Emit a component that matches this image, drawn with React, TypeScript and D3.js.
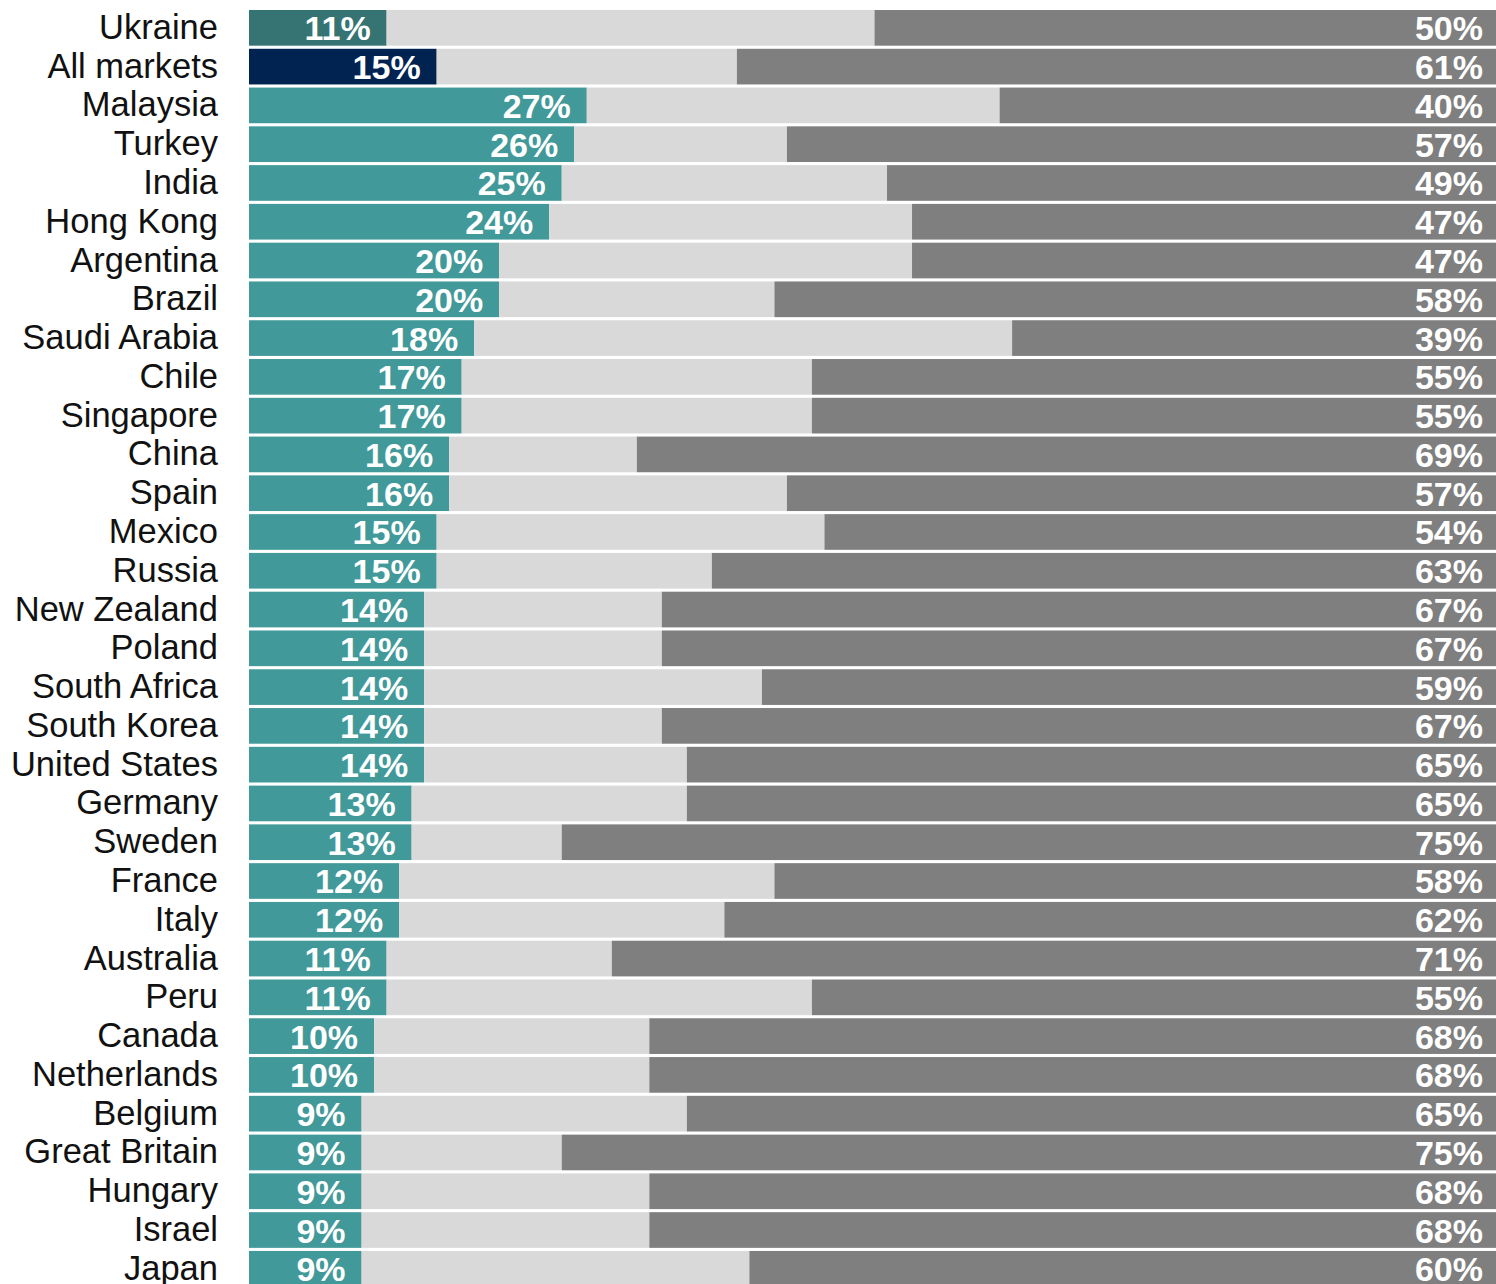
import React from "react";
import * as d3 from "d3";

const countries = [
  "Ukraine", "All markets", "Malaysia", "Turkey", "India", "Hong Kong", "Argentina",
  "Brazil", "Saudi Arabia", "Chile", "Singapore", "China", "Spain", "Mexico", "Russia",
  "New Zealand", "Poland", "South Africa", "South Korea", "United States", "Germany",
  "Sweden", "France", "Italy", "Australia", "Peru", "Canada", "Netherlands", "Belgium",
  "Great Britain", "Hungary", "Israel", "Japan",
];
const leftValues = [
  11, 15, 27, 26, 25, 24, 20, 20, 18, 17, 17, 16, 16, 15, 15,
  14, 14, 14, 14, 14, 13, 13, 12, 12, 11, 11, 10, 10, 9, 9, 9, 9, 9,
];
const rightValues = [
  50, 61, 40, 57, 49, 47, 47, 58, 39, 55, 55, 69, 57, 54, 63,
  67, 67, 59, 67, 65, 65, 75, 58, 62, 71, 55, 68, 68, 65, 75, 68, 68, 60,
];

const width = 1496;
const height = 1284;
const step = 38.78;

function leftColor(name: string) {
  if (name === "Ukraine") return "#357473";
  if (name === "All markets") return "#002352";
  return "#429999";
}

export default function App() {
  // the plot runs a little past the right edge of the picture
  const x = d3.scaleLinear().domain([0, 100]).range([249, 1500]);
  const y = d3
    .scaleBand<string>()
    .domain(countries)
    .range([10 - 0.04 * step, 10 - 0.04 * step + step * 33])
    .paddingInner(0.08)
    .paddingOuter(0.04);
  const bh = y.bandwidth();
  const font = "Liberation Sans, Arial, sans-serif";

  return (
    <div style={{ position: "absolute", left: 0, top: 0 }}>
      <svg width={width} height={height} style={{ display: "block" }} fontFamily={font}>
        {countries.map((c, i) => {
          const l = leftValues[i];
          const r = rightValues[i];
          const y0 = y(c) as number;
          const cy = y0 + bh / 2;
          return (
            <g key={c}>
              <rect x={x(0)} y={y0} width={x(l) - x(0)} height={bh} fill={leftColor(c)} />
              <rect x={x(l)} y={y0} width={x(100 - r) - x(l)} height={bh} fill="#d9d9d9" />
              <rect x={x(100 - r)} y={y0} width={x(100) - x(100 - r)} height={bh} fill="#7f7f7f" />
              <text x={218} y={cy + 11} textAnchor="end" fontSize={34.5} fill="#111">
                {c}
              </text>
              <text x={x(l) - 16} y={cy + 12.5} textAnchor="end" fontSize={34} fontWeight="bold" fill="#fff">
                {l}%
              </text>
              <text x={1483} y={cy + 12.5} textAnchor="end" fontSize={34} fontWeight="bold" fill="#fff">
                {r}%
              </text>
            </g>
          );
        })}
      </svg>
    </div>
  );
}
